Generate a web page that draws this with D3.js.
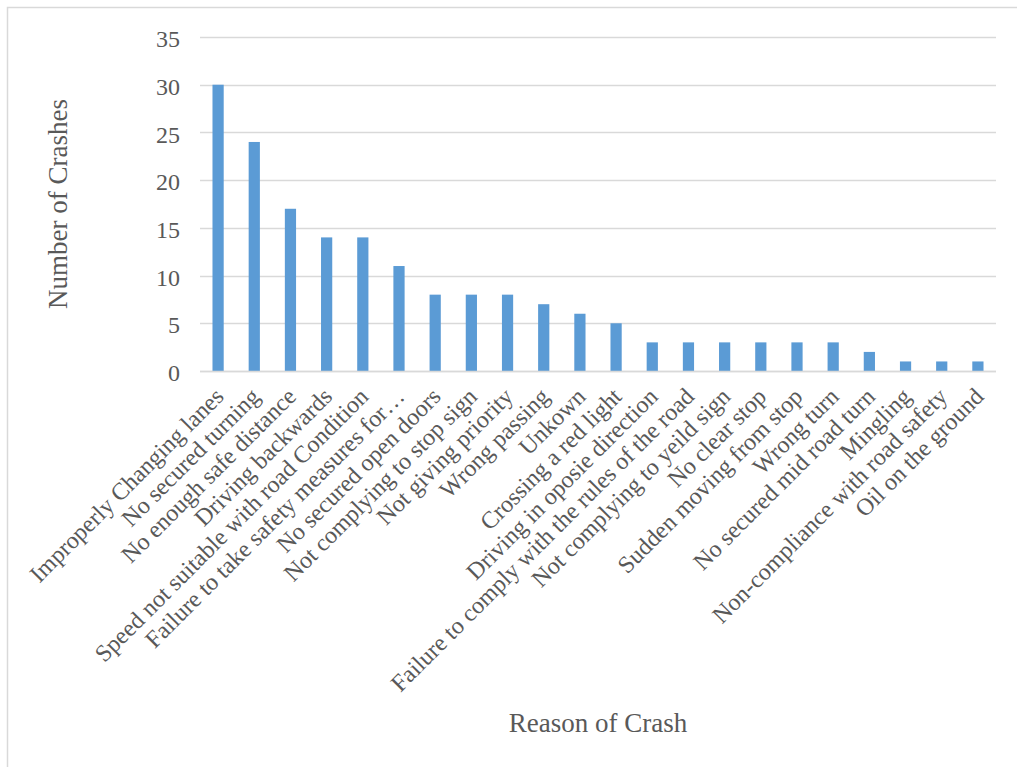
<!DOCTYPE html>
<html>
<head>
<meta charset="utf-8">
<script src="https://cdn.jsdelivr.net/npm/d3@7"></script>
<style>
  html, body { margin: 0; padding: 0; background: #fff; }
  svg { display: block; }
  text { font-family: "Liberation Serif", "Times New Roman", serif; fill: #595959; }
</style>
</head>
<body>
<svg id="chart" width="1017" height="767"></svg>
<script>
// Crash counts by reason
const reasons = [
  "Improperly Changing lanes",
  "No secured turning",
  "No enough safe distance",
  "Driving backwards",
  "Speed not suitable with road Condition",
  "Failure to take safety measures for\u2026",
  "No secured open doors",
  "Not complying to stop sign",
  "Not giving priority",
  "Wrong passing",
  "Unkown",
  "Crossing a red light",
  "Driving in oposie direction",
  "Failure to comply with the rules of the road",
  "Not complying to yeild sign",
  "No clear stop",
  "Sudden moving from stop",
  "Wrong turn",
  "No secured mid road turn",
  "Mingling",
  "Non-compliance with road safety",
  "Oil on the ground"
];
const crashes = [30, 24, 17, 14, 14, 11, 8, 8, 8, 7, 6, 5, 3, 3, 3, 3, 3, 3, 2, 1, 1, 1];
const yTicks = [0, 5, 10, 15, 20, 25, 30, 35];

const svg = d3.select("#chart");
const W = 1017, H = 767;
const margin = { left: 200, right: 21, top: 37, bottom: 396 };
const innerW = W - margin.left - margin.right;
const innerH = H - margin.top - margin.bottom;

// outer frame
svg.append("rect")
  .attr("x", 7.5).attr("y", 7.5)
  .attr("width", W + 10).attr("height", H + 10)
  .attr("fill", "none").attr("stroke", "#d9d9d9").attr("stroke-width", 1.5);

const g = svg.append("g").attr("transform", `translate(${margin.left},${margin.top})`);

const x = d3.scaleBand().domain(reasons).range([0, innerW]).paddingInner(0.69).paddingOuter(0.345);
const y = d3.scaleLinear().domain([0, 35]).range([innerH, 0]);

// gridlines
g.append("g").selectAll("line").data(yTicks).join("line")
  .attr("x1", 0).attr("x2", innerW)
  .attr("y1", d => Math.round(y(d)) + 0.5).attr("y2", d => Math.round(y(d)) + 0.5)
  .attr("stroke", "#d9d9d9").attr("stroke-width", 1.3);

// bars
g.append("g").selectAll("rect").data(crashes).join("rect")
  .attr("x", (d, i) => x(reasons[i]))
  .attr("width", x.bandwidth())
  .attr("y", d => y(d))
  .attr("height", d => y(0) - y(d))
  .attr("fill", "#5b9bd5");

// baseline
g.append("line").attr("x1", 0).attr("x2", innerW)
  .attr("y1", Math.round(y(0)) + 0.5).attr("y2", Math.round(y(0)) + 0.5)
  .attr("stroke", "#d9d9d9").attr("stroke-width", 1.5);

// y axis labels
const yAxis = d3.axisLeft(y).tickValues(yTicks).tickSize(0).tickPadding(20);
const ya = g.append("g").call(yAxis);
ya.select(".domain").remove();
ya.selectAll("text")
  .attr("font-size", 24).attr("font-family", "Liberation Serif, serif").attr("fill", "#595959")
  .attr("dy", "0.4em");

// x axis labels, rotated
const xAxis = d3.axisBottom(x).tickSize(0).tickPadding(0);
const xa = g.append("g").attr("transform", `translate(0,${innerH})`).call(xAxis);
xa.select(".domain").remove();
xa.selectAll("text")
  .attr("font-size", 24).attr("font-family", "Liberation Serif, serif").attr("fill", "#595959")
  .attr("text-anchor", "end")
  .attr("dy", 0).attr("y", 0)
  .attr("transform", "translate(7,27) rotate(-45)");

// axis titles
svg.append("text")
  .attr("x", margin.left + innerW / 2).attr("y", 732)
  .attr("text-anchor", "middle").attr("font-size", 27)
  .text("Reason of Crash");

svg.append("text")
  .attr("transform", `translate(67,${margin.top + innerH / 2}) rotate(-90)`)
  .attr("text-anchor", "middle").attr("font-size", 27)
  .text("Number of Crashes");
</script>
</body>
</html>
